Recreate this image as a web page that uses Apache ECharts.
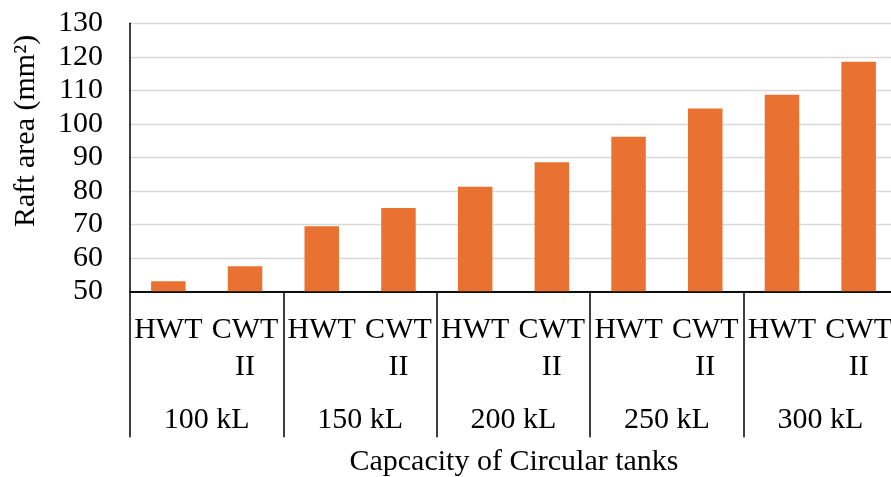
<!DOCTYPE html>
<html><head><meta charset="utf-8">
<script src="https://cdn.jsdelivr.net/npm/echarts@6/dist/echarts.min.js"></script>
<style>html,body{margin:0;padding:0;background:#fff;overflow:hidden;width:891px;height:477px}#c{width:897px;height:477px}</style>
</head><body><div id="c"></div>
<script>
const tankTypes = ['HWT','CWT II','HWT','CWT II','HWT','CWT II','HWT','CWT II','HWT','CWT II'];
const capacities = ['100 kL','150 kL','200 kL','250 kL','300 kL'];
const raftArea = [53.0, 57.5, 69.4, 74.9, 81.2, 88.5, 96.1, 104.6, 108.7, 118.5];
const yTicks = {min:50, max:130, step:10};
const yTitle = 'Raft area (mm²)';
const xTitle = 'Capcacity of Circular tanks';

const FONT = '"Liberation Serif","Times New Roman",serif';
const chart = echarts.init(document.getElementById('c'), null, {renderer:'canvas'});
chart.setOption({
  animation:false,
  backgroundColor:'#fff',
  grid:{left:130, top:23.3, right:0, bottom:185.7, containLabel:false},
  xAxis:[{
    type:'category', data:tankTypes, position:'bottom',
    axisLine:{show:true, lineStyle:{color:'#000', width:1.5}},
    axisTick:{show:false},
    axisLabel:{interval:0, color:'#000', fontFamily:FONT, fontSize:30, lineHeight:37, margin:20,
      formatter:v=>v.replace(' ','\n')}
  },{
    type:'category', data:capacities, position:'bottom',
    axisLine:{show:true, lineStyle:{color:'#000', width:1.5}},
    axisTick:{show:true, length:146, lineStyle:{color:'#000', width:1.5}},
    axisLabel:{interval:0, color:'#000', fontFamily:FONT, fontSize:30, margin:114}
  }],
  yAxis:{
    type:'value', min:yTicks.min, max:yTicks.max, interval:yTicks.step,
    axisLine:{show:true, lineStyle:{color:'#000', width:1.5}},
    axisTick:{show:false},
    splitLine:{lineStyle:{color:'#d9d9d9', width:1.3}},
    axisLabel:{color:'#000', fontFamily:FONT, fontSize:30, margin:27}
  },
  graphic:[
    {type:'text', x:26, y:131, rotation:Math.PI/2, style:{text:yTitle, font:'30px '+FONT, fill:'#000', align:'center', verticalAlign:'middle'}},
    {type:'text', x:514, y:462, style:{text:xTitle, font:'30px '+FONT, fill:'#000', align:'center', verticalAlign:'middle'}}
  ],
  series:[{
    type:'bar', data:raftArea, xAxisIndex:0, barCategoryGap:'55%',
    itemStyle:{color:'#E97132'}
  }]
});
</script></body></html>
